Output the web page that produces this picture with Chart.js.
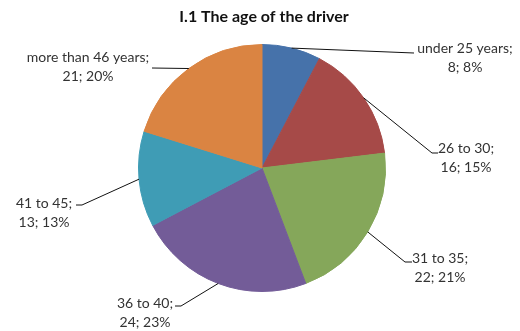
<!DOCTYPE html>
<html>
<head>
<meta charset="utf-8">
<script src="https://cdn.jsdelivr.net/npm/chart.js@4/dist/chart.umd.min.js"></script>
<style>
  html, body { margin: 0; padding: 0; background: #fff; }
  canvas { display: block; }
</style>
</head>
<body>
<canvas id="ageChart" width="520" height="331"></canvas>
<script>
const categories = ['under 25 years', '26 to 30', '31 to 35', '36 to 40', '41 to 45', 'more than 46 years'];
const counts = [8, 16, 22, 24, 13, 21];
const percents = [8, 15, 21, 23, 13, 20];
const colors = ['#4672aa', '#a64a48', '#85a75a', '#735c98', '#3f9cb5', '#da8442'];

// where each label sits: text centre x, first line y, leader elbow points
const labelLayout = [
    { cx: 465, y: 48,  path: [[414, 53]] },
    { cx: 466, y: 148, path: [[432, 153], [438, 153]] },
    { cx: 440, y: 258, path: [[405, 262], [412, 262]] },
    { cx: 145, y: 303, path: [[181, 306], [175, 306]] },
    { cx: 44,  y: 203, path: [[82, 205], [76, 205]] },
    { cx: 88,  y: 57,  path: [[152, 68]] }
];

const leaderLabels = {
    id: 'leaderLabels',
    afterDatasetsDraw(chart) {
        const ctx = chart.ctx;
        const arcs = chart.getDatasetMeta(0).data;
        ctx.save();
        arcs.forEach((arc, i) => {
            const mid = (arc.startAngle + arc.endAngle) / 2;
            const sx = arc.x + Math.cos(mid) * arc.outerRadius;
            const sy = arc.y + Math.sin(mid) * arc.outerRadius;
            const lay = labelLayout[i];
            ctx.beginPath();
            ctx.moveTo(sx, sy);
            lay.path.forEach(p => ctx.lineTo(p[0], p[1]));
            ctx.strokeStyle = '#111';
            ctx.lineWidth = 1;
            ctx.stroke();

            ctx.fillStyle = '#333';
            ctx.font = '14px Lato';
            ctx.textAlign = 'center';
            ctx.textBaseline = 'middle';
            ctx.fillText(categories[i] + ';', lay.cx, lay.y);
            ctx.fillText(counts[i] + '; ' + percents[i] + '%', lay.cx, lay.y + 19);
        });

        ctx.fillStyle = '#111';
        ctx.font = 'bold 16px Lato';
        ctx.textAlign = 'center';
        ctx.fillText('I.1 The age of the driver', 264, 17);
        ctx.restore();
    }
};

const ctx = document.getElementById('ageChart').getContext('2d');
const ageChart = new Chart(ctx, {
    type: 'pie',
    data: {
        labels: categories,
        datasets: [{
            data: counts,
            backgroundColor: colors,
            borderColor: colors,
            borderWidth: 1
        }]
    },
    options: {
        responsive: false,
        animation: false,
        layout: {
            padding: { top: 44, bottom: 39, left: 138, right: 134 }
        },
        plugins: {
            legend: { display: false },
            tooltip: { enabled: false }
        }
    },
    plugins: [leaderLabels]
});
</script>
</body>
</html>
